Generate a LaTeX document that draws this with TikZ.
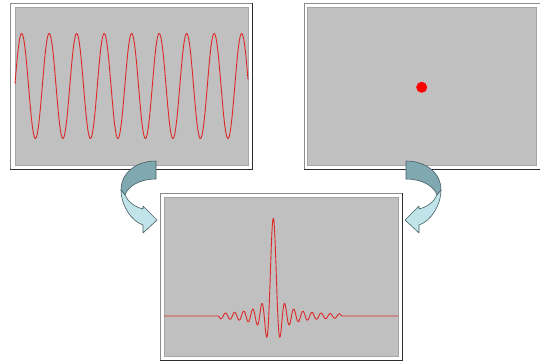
\documentclass[tikz,border=0pt]{standalone}
\definecolor{panelgray}{RGB}{192,192,192}
\definecolor{paneledge}{RGB}{165,165,165}
\definecolor{framelight}{RGB}{140,140,140}
\definecolor{framedark}{RGB}{45,45,45}
\definecolor{wavered}{RGB}{222,40,40}
\definecolor{dotred}{RGB}{255,0,0}
\definecolor{arrowdark}{RGB}{128,168,176}
\definecolor{arrowlight}{RGB}{192,228,234}
\definecolor{arrowedge}{RGB}{70,95,100}
\tikzset{
  wave/.style={draw=wavered, line width=0.9pt, line join=round},
  panel/.style={fill=panelgray, draw=paneledge, line width=1pt},
  framelit/.style={draw=framelight, line width=1pt},
  frameshade/.style={draw=framedark, line width=1pt},
  arrowback/.style={fill=arrowdark, draw=arrowedge, line width=0.6pt, line join=round},
  arrowfront/.style={fill=arrowlight, draw=arrowedge, line width=0.6pt, line join=round},
}
\newcommand\myframe[4]{%
  \fill[white] (#1,#2) rectangle (#3,#4);
  \draw[framelit] (#1,#4) -- (#1,#2) -- (#3,#2);
  \draw[frameshade] (#3,#2) -- (#3,#4) -- (#1,#4);
}
\newcommand\mycurvedarrow{%
  \path[arrowback] (156,161) .. controls (136,161) and (121,173) .. (121,190)
    -- (125,195) .. controls (128,186) and (140,179) .. (156,179) -- cycle;
  \path[arrowfront] (121,190) .. controls (121,205) and (131,221) .. (143,225)
    -- (143,233) -- (157,220) -- (143,206) -- (143,209)
    .. controls (135,207) and (128,202) .. (125,195) -- cycle;
}
\begin{document}
\begin{tikzpicture}[x=1pt,y=-1pt]
  \useasboundingbox (0,0) rectangle (540,362);
  \clip (0,0) rectangle (540,362);
  \fill[white] (0,0) rectangle (540,362);

  % top-left panel: sine wave
  \myframe{10}{3}{252}{169}
  \path[panel] (15,7) rectangle (248,165);
  \draw[wave] plot[domain=15:248, samples=500] (\x, {86-52.5*sin(13.0909*(\x-14.8))});

  % top-right panel: point
  \myframe{304}{3}{545}{169}
  \path[panel] (307.5,7) rectangle (536,165);
  \fill[dotred] (421.7,87.3) circle (5.5);

  % bottom panel: sinc
  \myframe{160}{193}{402}{360}
  \path[panel] (164,197) rectangle (398,356);
  \draw[wave] (164,316) -- (218.3,316)
    -- plot[domain=-37.699:47.124, samples=801] ({273.3+1.45*\x}, {316-97.7*sin(\x r)/\x})
    -- (398,316);

  % curved arrows
  \mycurvedarrow
  \begin{scope}[xshift=562pt, xscale=-1]
    \mycurvedarrow
  \end{scope}
\end{tikzpicture}
\end{document}
